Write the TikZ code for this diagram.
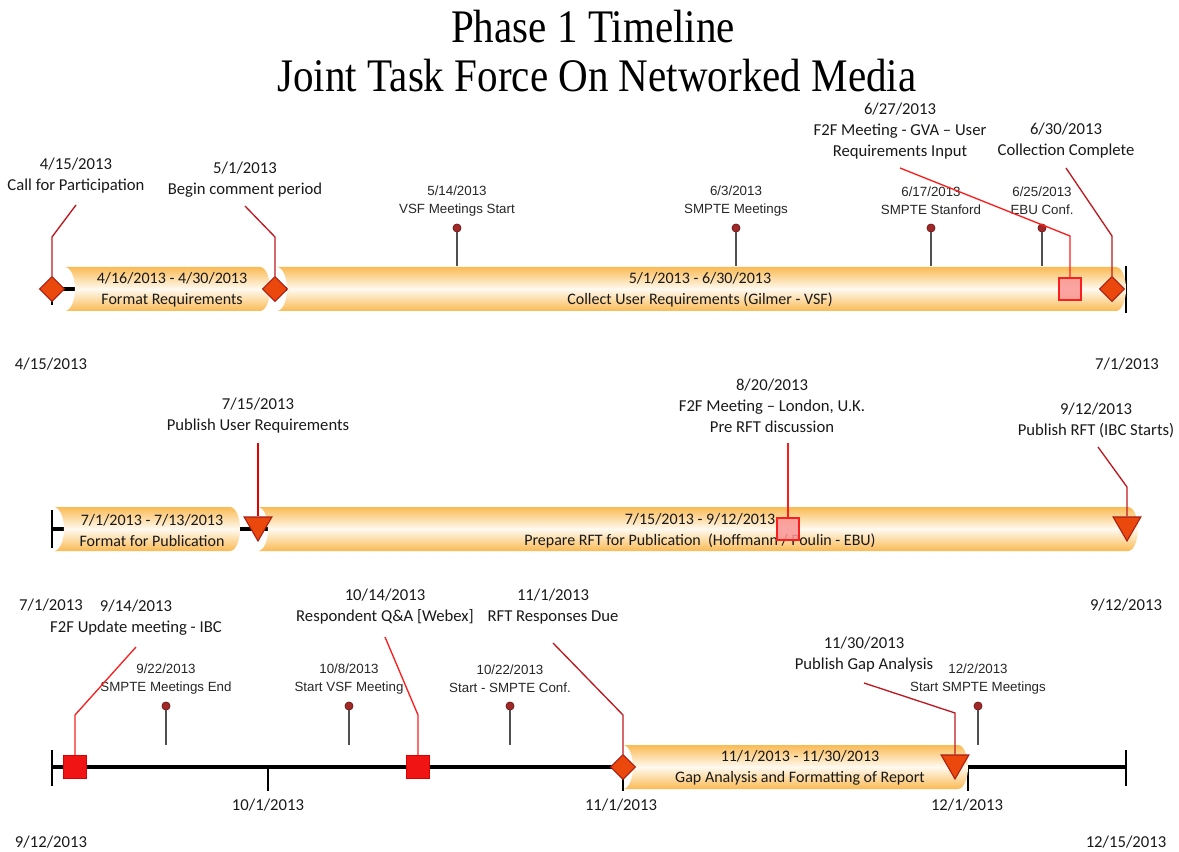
\documentclass[tikz,border=0pt]{standalone}
\usepackage{fontspec}
\usepackage{graphicx}
\setmainfont{Carlito}
\newfontfamily\pinfamily{Liberation Sans}
\newfontfamily\titlefamily{Liberation Serif}
\usetikzlibrary{shapes.geometric}
\definecolor{barorange}{RGB}{250,186,84}
\definecolor{barlight}{RGB}{255,250,240}
\definecolor{mkfill}{RGB}{234,72,12}
\definecolor{mkdraw}{RGB}{170,30,20}
\definecolor{dkred}{RGB}{190,25,30}
\definecolor{brred}{RGB}{250,30,30}
\definecolor{pinkfill}{RGB}{250,150,150}
\definecolor{sqred}{RGB}{240,20,20}
\definecolor{pingray}{RGB}{80,80,80}
\definecolor{pindotc}{RGB}{160,40,40}
\newcommand{\tlbar}[3]{\path[barfill] (#1,{22-#3}) -- ({#2-10},{22-#3}) arc[start angle=90,end angle=-90,x radius=10,y radius=22] -- (#1,{-22-#3}) arc[start angle=-90,end angle=90,x radius=10,y radius=22] -- cycle;}
\tikzset{
  lbl/.style={font={\fontsize{12.5}{15.75}\selectfont}, align=center, inner sep=0pt, text=black!90},
  barlbl/.style={font={\fontsize{12}{15.75}\selectfont}, align=center, inner sep=0pt, text=black!90},
  titl/.style={font={\titlefamily\fontsize{35}{37}\selectfont}, inner sep=0pt, anchor=base},
  pinlbl/.style={font={\pinfamily\fontsize{10}{13.5}\selectfont}, align=center, inner sep=0pt, text=black!85},
  barfill/.style={top color=barorange, bottom color=barorange, middle color=barlight, draw=none},
  dmd/.style={diamond, draw=mkdraw, fill=mkfill, line width=0.8pt, minimum size=19pt, inner sep=0pt},
  tri/.style={regular polygon, regular polygon sides=3, shape border rotate=180, draw=mkdraw, fill=mkfill, line width=0.8pt, minimum size=24pt, inner sep=0pt},
  pinksq/.style={rectangle, draw=brred, fill=pinkfill, fill opacity=0.85, line width=1pt, minimum size=16.5pt, inner sep=0pt},
  redsq/.style={rectangle, draw=red!85!black, fill=sqred, line width=0.8pt, minimum size=17pt, inner sep=0pt},
  pindot/.style={circle, fill=pindotc, draw=pindotc!70!black, line width=0.4pt, minimum size=6pt, inner sep=0pt},
  pinline/.style={draw=pingray, line width=1pt},
  call/.style={line width=1pt},
  axis/.style={line width=2.3pt, black},
  tick/.style={line width=1pt, black},
}
\begin{document}
\begin{tikzpicture}[x=0.75pt,y=0.75pt]
\useasboundingbox (0,0) rectangle (1179,-852);

% Title
\node[titl] (title1) at (593,-43) {\scalebox{0.88}[1]{Phase 1 Timeline}};
\node[titl] (title2) at (597,-92) {\scalebox{0.88}[1]{Joint Task Force On Networked Media}};

% ===== Row 1 =====
\coordinate (a1s) at (52,-289);
\coordinate (a1e) at (1126,-289);
\draw[axis] (a1s) -- (a1e);
\draw[tick] (52,-277) -- (52,-305);
\draw[tick] (1126,-266) -- (1126,-313);
\tlbar{65}{270}{289}
\tlbar{277}{1126}{289}
\node[barlbl] (b1) at (172,-289.5) {4/16/2013 - 4/30/2013\\Format Requirements};
\node[barlbl] (b2) at (700,-289.5) {5/1/2013 - 6/30/2013\\Collect User Requirements (Gilmer - VSF)};

% pins row 1
\foreach \n/\x/\t in {p1/457/{5/14/2013\\VSF Meetings Start}, p2/736/{6/3/2013\\SMPTE Meetings}, p3/931/{6/17/2013\\SMPTE Stanford}, p4/1042/{6/25/2013\\EBU Conf.}}{
  \node[pinlbl] (\n) at (\x,-201) {\t};
  \node[pindot] (\n d) at (\x,-228) {};
  \coordinate (\n e) at (\x,-266);
  \draw[pinline] (\n d) -- (\n e);
  \node[pindot] at (\x,-228) {};
}

% markers row 1
\node[dmd] (m1) at (52,-289) {};
\node[dmd] (m2) at (275,-289) {};
\node[pinksq] (m3) at (1070,-289) {};
\node[dmd] (m4) at (1112,-289) {};

% callouts row 1
\node[lbl] (c1) at (76,-176) {4/15/2013\\Call for Participation};
\node[lbl] (c2) at (245,-179.5) {5/1/2013\\Begin comment period};
\node[lbl] (c3) at (900,-131) {6/27/2013\\F2F Meeting - GVA – User\\Requirements Input};
\node[lbl] (c4) at (1066,-140.5) {6/30/2013\\Collection Complete};
\coordinate (s1) at (76,-205); \coordinate (k1) at (52,-237);
\coordinate (s2) at (245,-206); \coordinate (k2) at (275,-237);
\coordinate (s3) at (900,-168); \coordinate (k3) at (1070,-236);
\coordinate (s4) at (1066,-168); \coordinate (k4) at (1112,-236);
\draw[call,dkred] (s1) -- (k1) -- (m1.north);
\draw[call,dkred] (s2) -- (k2) -- (m2.north);
\draw[call,brred] (s3) -- (k3) -- (m3.north);
\draw[call,dkred] (s4) -- (k4) -- (m4.north);

\node[lbl] (d1) at (51,-364) {4/15/2013};
\node[lbl] (d2) at (1127,-364) {7/1/2013};

% ===== Row 2 =====
\draw[tick] (52,-510) -- (52,-548);
\coordinate (a2s) at (52,-529);
\coordinate (a2e) at (270,-529);
\draw[axis] (a2s) -- (a2e);
\tlbar{54}{240}{529}
\tlbar{258}{1138}{529}
\node[barlbl] (b3) at (152,-530.5) {7/1/2013 - 7/13/2013\\Format for Publication};
\node[barlbl] (b4) at (700,-530.5) {7/15/2013 - 9/12/2013\\Prepare RFT for Publication\ \ (Hoffmann / Poulin - EBU)};

\node[tri] (m5) at (258,-525) {};
\node[pinksq] (m6) at (788,-529) {};
\node[tri] (m7) at (1127,-525) {};

\node[lbl] (c5) at (258,-415.5) {7/15/2013\\Publish User Requirements};
\node[lbl] (c6) at (772,-405.5) {8/20/2013\\F2F Meeting – London, U.K.\\Pre RFT discussion};
\node[lbl] (c7) at (1096,-420) {9/12/2013\\Publish RFT (IBC Starts)};
\coordinate (s5) at (258,-443);
\coordinate (s6) at (788,-443);
\coordinate (s7) at (1098,-447); \coordinate (k7) at (1127,-487);
\draw[call,red!90!black] (s5) -- (m5.north);
\draw[call,brred] (s6) -- (m6.north);
\draw[call,dkred] (s7) -- (k7) -- (m7.north);

\node[lbl] (d3) at (51,-605) {7/1/2013};
\node[lbl] (d4) at (1126,-605) {9/12/2013};

% ===== Row 3 =====
\coordinate (a3s) at (52,-767);
\coordinate (a3e) at (1126,-767);
\draw[axis, line width=3pt] (a3s) -- (a3e);
\draw[tick] (52,-750) -- (52,-786);
\draw[tick] (1126,-750) -- (1126,-786);
\draw[tick] (268,-767) -- (268,-791);
\draw[tick] (968,-767) -- (968,-791);
\tlbar{623}{968}{767}
\draw[tick] (623,-767) -- (623,-791);
\node[barlbl] (b5) at (800,-768) {11/1/2013 - 11/30/2013\\Gap Analysis and Formatting of Report};

\foreach \n/\x/\t in {p5/166/{9/22/2013\\SMPTE Meetings End}, p6/349/{10/8/2013\\Start VSF Meeting}, p7/510/{10/22/2013\\Start - SMPTE Conf.}, p8/978/{12/2/2013\\Start SMPTE Meetings}}{
  \node[pinlbl] (\n) at (\x,-679) {\t};
  \node[pindot] (\n d) at (\x,-706) {};
  \coordinate (\n e) at (\x,-745);
  \draw[pinline] (\n d) -- (\n e);
  \node[pindot] at (\x,-706) {};
}

\node[redsq] (m8) at (75,-767) {};
\node[redsq] (m9) at (418,-767) {};
\node[dmd] (m10) at (623,-767) {};
\node[tri] (m11) at (955,-763) {};

\node[lbl] (c8) at (136,-618) {9/14/2013\\F2F Update meeting - IBC};
\node[lbl] (c9) at (385,-606.5) {10/14/2013\\Respondent Q\&A [Webex]};
\node[lbl] (c10) at (553,-606.5) {11/1/2013\\RFT Responses Due};
\node[lbl] (c11) at (864,-654.5) {11/30/2013\\Publish Gap Analysis};
\coordinate (s8) at (136,-647); \coordinate (k8) at (75,-715);
\coordinate (s9) at (385,-637); \coordinate (k9) at (418,-715);
\coordinate (s10) at (553,-643); \coordinate (k10) at (623,-715);
\coordinate (s11) at (864,-683); \coordinate (k11) at (955,-713);
\draw[call,brred] (s8) -- (k8) -- (m8.north);
\draw[call,brred] (s9) -- (k9) -- (m9.north);
\draw[call,dkred] (s10) -- (k10) -- (m10.north);
\draw[call,dkred] (s11) -- (k11) -- (m11.north);

\node[lbl] (d5) at (268,-805) {10/1/2013};
\node[lbl] (d6) at (621,-805) {11/1/2013};
\node[lbl] (d7) at (967,-805) {12/1/2013};
\node[lbl] (d8) at (51,-842) {9/12/2013};
\node[lbl] (d9) at (1126,-842) {12/15/2013};
\end{tikzpicture}
\end{document}
